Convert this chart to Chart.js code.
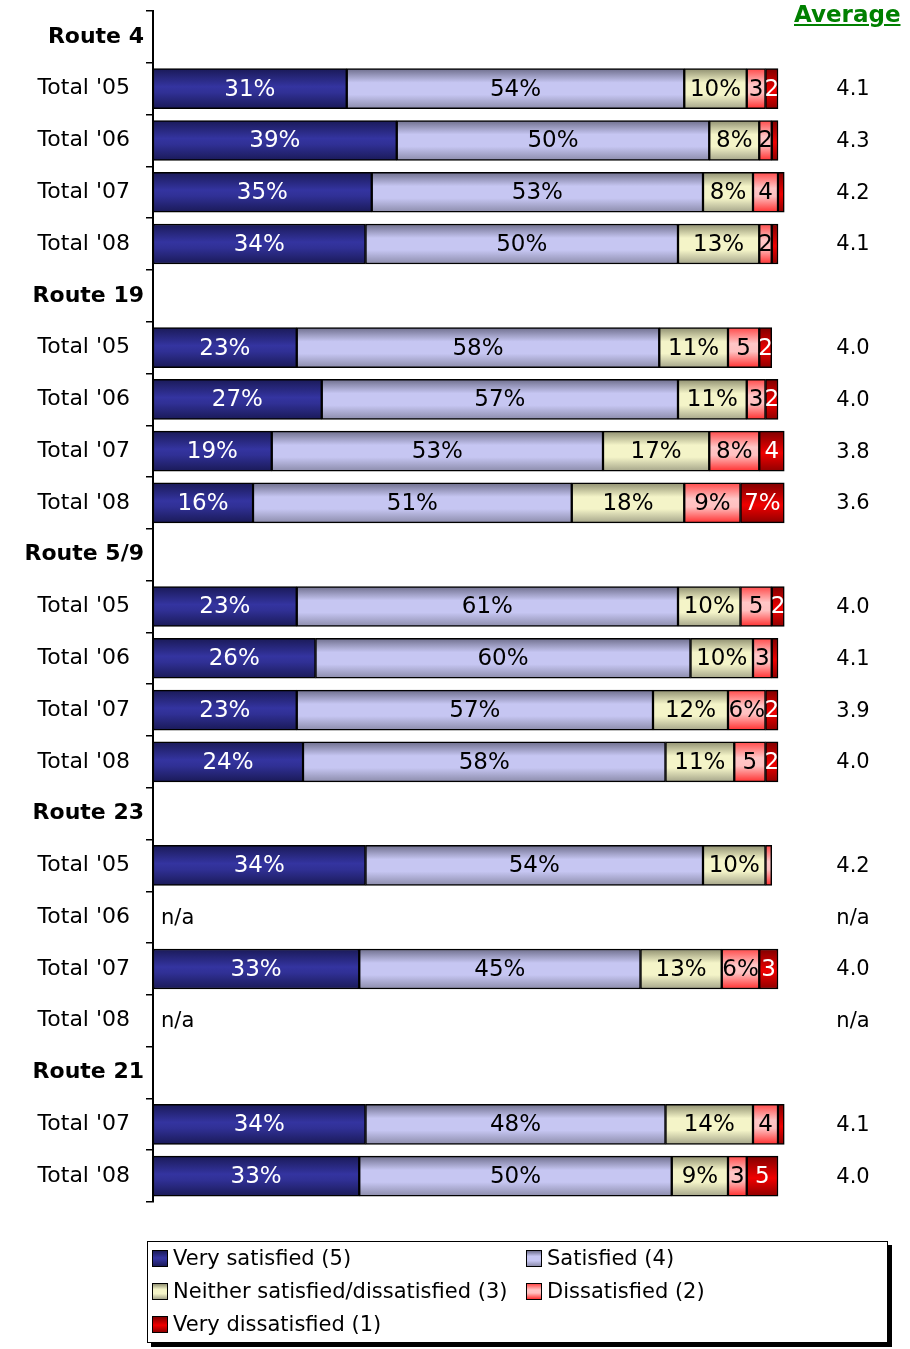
<!DOCTYPE html>
<html>
<head>
<meta charset="utf-8">
<script src="https://cdn.jsdelivr.net/npm/chart.js@4"></script>
<style>
  body { margin: 0; background: #fff; font-family: "DejaVu Sans", sans-serif; }
  #wrap { position: relative; width: 910px; height: 1349px; }
  #avgTitle { position: absolute; left: 794px; top: 1px; font: bold 23px "DejaVu Sans", sans-serif; color: #008000; text-decoration: underline; }
  #legend { position: absolute; left: 147px; top: 1241px; width: 739px; height: 100px; border: 1px solid #000; box-shadow: 4px 4px 0 #000; background: #fff; }
  .item { position: absolute; font: 21px "DejaVu Sans", sans-serif; color: #000; white-space: nowrap; }
  .mark { display: inline-block; width: 14px; height: 15px; border: 1px solid #000; vertical-align: -2px; margin-right: 5px; }
</style>
</head>
<body>
<div id="wrap">
  <canvas id="chart" width="910" height="1349"></canvas>
  <div id="avgTitle">Average</div>
  <div id="legend"></div>
</div>
<script>
// rows of the chart: route headers followed by yearly totals
const categories = ['Route 4', "Total '05", "Total '06", "Total '07", "Total '08",
  'Route 19', "Total '05", "Total '06", "Total '07", "Total '08",
  'Route 5/9', "Total '05", "Total '06", "Total '07", "Total '08",
  'Route 23', "Total '05", "Total '06", "Total '07", "Total '08",
  'Route 21', "Total '07", "Total '08"];

const seriesNames = ['Very satisfied (5)', 'Satisfied (4)', 'Neither satisfied/dissatisfied (3)', 'Dissatisfied (2)', 'Very dissatisfied (1)'];

const verySatisfied = [null, 31, 39, 35, 34, null, 23, 27, 19, 16, null, 23, 26, 23, 24, null, 34, null, 33, null, null, 34, 33];
const satisfied     = [null, 54, 50, 53, 50, null, 58, 57, 53, 51, null, 61, 60, 57, 58, null, 54, null, 45, null, null, 48, 50];
const neither       = [null, 10, 8, 8, 13, null, 11, 11, 17, 18, null, 10, 10, 12, 11, null, 10, null, 13, null, null, 14, 9];
const dissatisfied  = [null, 3, 2, 4, 2, null, 5, 3, 8, 9, null, 5, 3, 6, 5, null, 1, null, 6, null, null, 4, 3];
const veryDissat    = [null, 2, 1, 1, 1, null, 2, 2, 4, 7, null, 2, 1, 2, 2, null, 0, null, 3, null, null, 1, 5];

const averages = ['', '4.1', '4.3', '4.2', '4.1', '', '4.0', '4.0', '3.8', '3.6', '', '4.0', '4.1', '3.9', '4.0',
  '', '4.2', 'n/a', '4.0', 'n/a', '', '4.1', '4.0'];

// gradient stops (top -> bottom) per series, Excel-like shading
const gradients = [
  [[0, '#1a1a58'], [0.45, '#3434a0'], [0.6, '#303095'], [1, '#1a1a58']],
  [[0, '#6e6e8c'], [0.35, '#c6c6f2'], [0.65, '#c6c6f2'], [1, '#8c8cab']],
  [[0, '#8f8f70'], [0.35, '#f4f4c8'], [0.65, '#f4f4c8'], [1, '#a5a58a']],
  [[0, '#ff4a4a'], [0.4, '#ffc6c6'], [0.6, '#ffc0c0'], [1, '#ff3030']],
  [[0, '#800000'], [0.55, '#f00000'], [1, '#900000']]
];
const labelColors = ['#fff', '#000', '#000', '#000', '#fff'];
const seriesData = [verySatisfied, satisfied, neither, dissatisfied, veryDissat];

const isHeader = l => l.indexOf('Route') === 0;

function barFill(i) {
  return function (ctx) {
    const chart = ctx.chart;
    if (!chart.chartArea || ctx.dataIndex === undefined) return gradients[i][1][1];
    const y = chart.scales.y.getPixelForValue(ctx.dataIndex);
    const g = chart.ctx.createLinearGradient(0, y - 20, 0, y + 20);
    gradients[i].forEach(s => g.addColorStop(s[0], s[1]));
    return g;
  };
}

// legend (html, two columns)
const legend = document.getElementById('legend');
seriesNames.forEach((name, i) => {
  const d = document.createElement('div');
  d.className = 'item';
  d.style.left = (i % 2 ? 378 : 4) + 'px';
  d.style.top = (Math.floor(i / 2) * 33 + 4) + 'px';
  const m = document.createElement('span');
  m.className = 'mark';
  m.style.background = 'linear-gradient(to bottom,' + gradients[i].map(s => s[1] + ' ' + (s[0] * 100) + '%').join(',') + ')';
  d.appendChild(m);
  d.appendChild(document.createTextNode(name));
  legend.appendChild(d);
});

const segmentLabels = {
  id: 'segmentLabels',
  afterDatasetsDraw(chart) {
    const c = chart.ctx;
    c.save();
    c.font = '23px "DejaVu Sans", sans-serif';
    c.textAlign = 'center';
    c.textBaseline = 'middle';
    chart.data.datasets.forEach((ds, i) => {
      chart.getDatasetMeta(i).data.forEach((bar, j) => {
        const v = ds.data[j];
        if (v == null || v < 2) return;
        c.fillStyle = labelColors[i];
        c.fillText(v >= 6 ? v + '%' : String(v), (bar.x + bar.base) / 2, bar.y + 1);
      });
    });
    // averages column and n/a rows
    c.font = '21px "DejaVu Sans", sans-serif';
    c.fillStyle = '#000';
    averages.forEach((a, j) => {
      if (!a) return;
      const y = chart.scales.y.getPixelForValue(j) + 1;
      c.textAlign = 'center';
      c.fillText(a, 853, y);
      if (a === 'n/a') {
        c.textAlign = 'left';
        c.fillText('n/a', chart.chartArea.left + 8, y);
      }
    });
    c.restore();
  }
};

new Chart(document.getElementById('chart'), {
  type: 'bar',
  data: {
    labels: categories.map(l => isHeader(l) ? l : l + '  '),
    datasets: seriesNames.map((name, i) => ({
      label: name,
      data: seriesData[i],
      backgroundColor: barFill(i),
      borderColor: '#000',
      borderWidth: 1.5,
      borderSkipped: false,
      barThickness: 40
    }))
  },
  options: {
    indexAxis: 'y',
    responsive: false,
    animation: false,
    devicePixelRatio: 1,
    layout: { padding: { top: 11, bottom: 147, left: 0, right: 107 } },
    scales: {
      x: { display: false, stacked: true, min: 0, max: 104 },
      y: {
        stacked: true,
        afterFit(s) { s.width = 153; s.paddingTop = 0; s.paddingBottom = 0; },
        grid: { drawOnChartArea: false, drawTicks: true, tickLength: 7, color: '#000', lineWidth: 1.5 },
        border: { display: true, color: '#000', width: 2 },
        ticks: {
          color: '#000',
          padding: 2,
          autoSkip: false,
          font: c => isHeader(categories[c.index] || '') ?
            { family: 'DejaVu Sans', size: 22, weight: 'bold' } :
            { family: 'DejaVu Sans', size: 22 }
        }
      }
    },
    plugins: {
      legend: { display: false },
      tooltip: { enabled: false }
    }
  },
  plugins: [segmentLabels]
});
</script>
</body>
</html>
